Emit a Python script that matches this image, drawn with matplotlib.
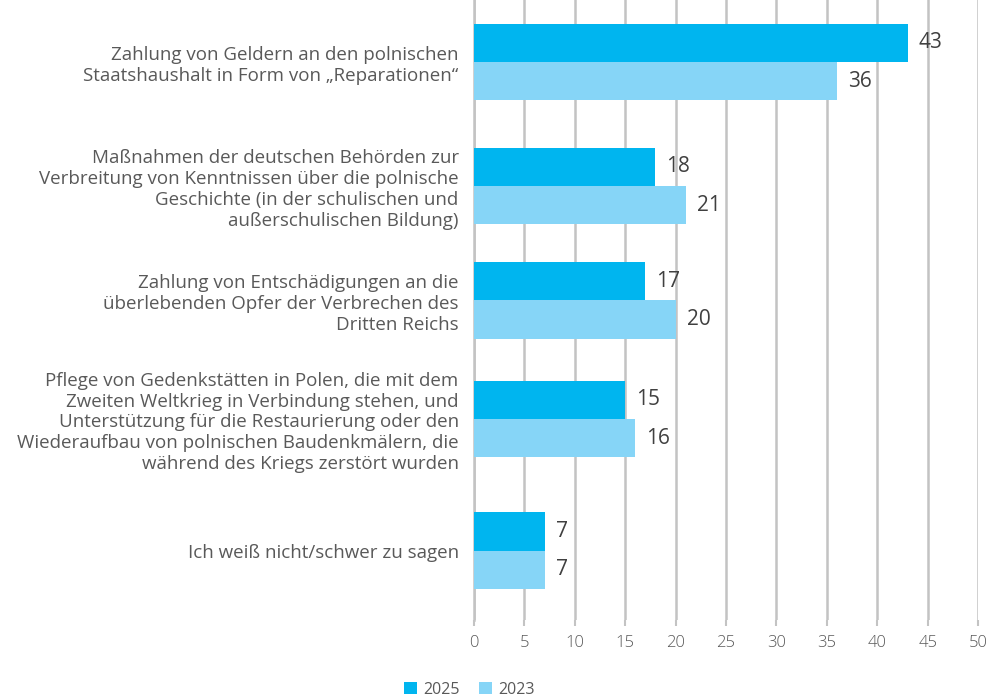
import matplotlib
matplotlib.use("Agg")
import matplotlib.pyplot as plt
import numpy as np

categories = [
    "Zahlung von Geldern an den polnischen\nStaatshaushalt in Form von \u201eReparationen\u201c",
    "Maßnahmen der deutschen Behörden zur\nVerbreitung von Kenntnissen über die polnische\nGeschichte (in der schulischen und\naußerschulischen Bildung)",
    "Zahlung von Entschädigungen an die\nüberlebenden Opfer der Verbrechen des\nDritten Reichs",
    "Pflege von Gedenkstätten in Polen, die mit dem\nZweiten Weltkrieg in Verbindung stehen, und\nUnterstützung für die Restaurierung oder den\nWiederaufbau von polnischen Baudenkmälern, die\nwährend des Kriegs zerstört wurden",
    "Ich weiß nicht/schwer zu sagen",
]
values_2025 = [43, 18, 17, 15, 7]
values_2023 = [36, 21, 20, 16, 7]
series_labels = ["2025", "2023"]
xticks = [0, 5, 10, 15, 20, 25, 30, 35, 40, 45, 50]

c2025 = "#00b5ef"
c2023 = "#86d5f7"
grid_c = "#c3c3c3"
text_c = "#595959"

plt.rcParams['font.family'] = ['Open Sans', 'DejaVu Sans']

fig = plt.figure(figsize=(9.93, 6.99), dpi=100)
ax = fig.add_axes([0.4773, 0.113, 0.5077, 0.887])

# group centres are not evenly spaced in the original layout
y = np.array([0, 1, 1.923, 2.879, 3.94])
h = 0.31
b1 = ax.barh(y - h / 2, values_2025, height=h, color=c2025, label=series_labels[0], zorder=3)
b2 = ax.barh(y + h / 2, values_2023, height=h, color=c2023, label=series_labels[1], zorder=3)

for bars, vals in ((b1, values_2025), (b2, values_2023)):
    for rect, v in zip(bars, vals):
        ax.text(rect.get_width() + 1.1, rect.get_y() + rect.get_height() / 2, str(v),
                va="center", ha="left", fontsize=15, color="#404040", zorder=4)

ax.set_ylim(4.5, -0.5)
ax.set_xlim(0, 50)
ax.set_xticks(xticks)
ax.set_xticklabels([str(t) for t in xticks], fontsize=12, color=text_c, fontweight="light")
ax.set_yticks(y)
ax.set_yticklabels(categories, fontsize=13.5, color=text_c, linespacing=1.2)
ax.tick_params(axis="y", length=0, pad=11)
ax.tick_params(axis="x", length=4, color=grid_c, width=1.5, pad=7)

ax.xaxis.grid(True, color=grid_c, linewidth=1.8, zorder=0)
for s in ("top", "right", "bottom"):
    ax.spines[s].set_visible(False)
ax.spines["left"].set_color(grid_c)
ax.spines["left"].set_linewidth(1.8)

fig.legend(handles=[b1, b2], labels=series_labels, loc="lower center",
           bbox_to_anchor=(0.473, -0.019), ncol=2, frameon=False,
           fontsize=11.5, labelcolor=text_c, handlelength=0.8, handleheight=0.8,
           columnspacing=1.2, handletextpad=0.4)

fig.savefig("out.png", dpi=100)
